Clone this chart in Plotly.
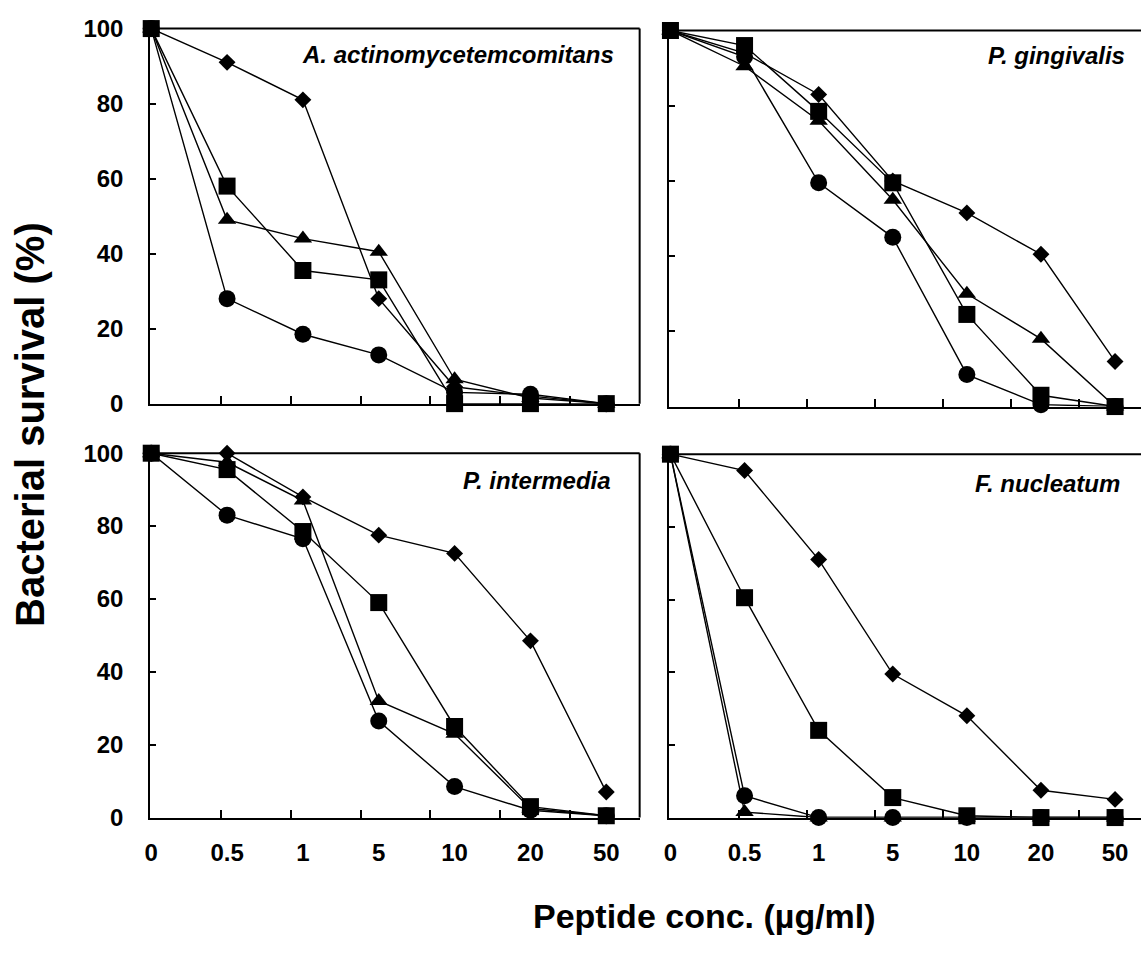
import plotly.graph_objects as go

# ---------------- data ----------------
conc_labels = ["0", "0.5", "1", "5", "10", "20", "50"]
y_ticks = [0, 20, 40, 60, 80, 100]

# A. actinomycetemcomitans
aa_diamond = [100, 91, 81, 28, 4.5, 2, 0]
aa_square = [100, 58, 35.5, 33, 0, 0, 0]
aa_triangle = [100, 49, 44, 40.5, 6.5, 1.5, 0]
aa_circle = [100, 28, 18.5, 13, 3, 2.5, 0]

# P. gingivalis
pg_diamond = [100, 94, 83, 60, 51.5, 40.5, 12]
pg_square = [100, 96, 78.5, 59.5, 24.5, 3, 0]
pg_triangle = [100, 90.5, 76, 55, 30, 18, 0]
pg_circle = [100, 93, 59.5, 45, 8.5, 0.5, 0]

# P. intermedia
pi_diamond = [100, 100, 88, 77.5, 72.5, 48.5, 7]
pi_square = [100, 95.5, 78.5, 59, 25, 3, 0.5]
pi_triangle = [100, 97.5, 87, 32, 23, 2.5, 0.5]
pi_circle = [100, 83, 76.5, 26.5, 8.5, 2, 0.5]

# F. nucleatum
fn_diamond = [100, 95.5, 71, 39.5, 28, 7.5, 5]
fn_square = [100, 60.5, 24, 5.5, 0.5, 0, 0]
fn_triangle = [100, 1.5, 0, 0, 0, 0, 0]
fn_circle = [100, 6, 0, 0, 0, 0, 0]

panels = [
    ("A. actinomycetemcomitans", aa_diamond, aa_square, aa_triangle, aa_circle),
    ("P. gingivalis", pg_diamond, pg_square, pg_triangle, pg_circle),
    ("P. intermedia", pi_diamond, pi_square, pi_triangle, pi_circle),
    ("F. nucleatum", fn_diamond, fn_square, fn_triangle, fn_circle),
]

# ---------------- layout geometry ----------------
W, H = 1141, 953
FONT = "Liberation Sans, Arial, Helvetica, sans-serif"

def px_x(a, b):
    return [a / W, min(b / W, 1.0)]

def px_y(top, bottom):
    return [1 - bottom / H, 1 - top / H]

# (x domain, y domain, x range max, show x labels, show y labels, right border, label pos)
geo = [
    (px_x(145, 637), px_y(15, 401), 6.44, False, True, True, (0.952, 0.93)),
    (px_x(667, 1141), px_y(17, 404), 6.35, False, False, False, (0.97, 0.933)),
    (px_x(145, 637), px_y(452, 827), 6.44, True, True, True, (0.946, 0.925)),
    (px_x(667, 1141), px_y(453, 827), 6.35, True, False, False, (0.96, 0.92)),
]

TICK_STEP = 6.44 / 7

fig = go.Figure()

x_idx = list(range(len(conc_labels)))

series_style = [
    # (index in panel tuple, symbol, size)
    (4, "circle", 17),
    (3, "triangle-up", 16),
    (1, "diamond", 13),
    (2, "square", 17),
]

layout = dict(
    width=W, height=H,
    margin=dict(l=0, r=0, t=0, b=0),
    paper_bgcolor="white", plot_bgcolor="rgba(0,0,0,0)",
    showlegend=False,
    font=dict(family=FONT, color="black"),
    annotations=[],
    shapes=[],
)

BORDER = dict(color="black", width=2)

for i, (panel, g) in enumerate(zip(panels, geo)):
    n = i + 1
    xa = "x" if n == 1 else f"x{n}"
    ya = "y" if n == 1 else f"y{n}"
    xdom, ydom, xmax, showx, showy, rborder, lab = g
    for idx, sym, size in series_style:
        fig.add_trace(go.Scatter(
            x=x_idx, y=panel[idx], xaxis=xa, yaxis=ya,
            mode="lines+markers",
            line=dict(color="black", width=1.4),
            marker=dict(symbol=sym, size=size, color="black"),
            cliponaxis=False, hoverinfo="skip",
        ))
    # main x axis: evenly spaced inner tick marks, no labels
    layout[f"xaxis{n}" if n > 1 else "xaxis"] = dict(
        domain=xdom, anchor=ya, range=[-0.013, xmax],
        tickmode="array",
        tickvals=[TICK_STEP * k for k in range(1, 7)],
        ticks="inside", ticklen=8, tickwidth=1.5, tickcolor="black",
        showticklabels=False,
        showline=True, linecolor="black", linewidth=2,
        mirror=False, showgrid=False, zeroline=False, fixedrange=True,
        layer="above traces",
    )
    # overlay x axis: category labels at the data positions
    if showx:
        m = n + 4
        layout[f"xaxis{m}"] = dict(
            domain=xdom, anchor=ya, overlaying=xa, side="bottom",
            range=[-0.013, xmax],
            tickmode="array", tickvals=x_idx, ticktext=conc_labels,
            ticks="", showticklabels=True,
            tickfont=dict(size=24, family=FONT, weight="bold", color="black"),
            ticklabelstandoff=18,
            showline=False, showgrid=False, zeroline=False, fixedrange=True,
        )
        fig.add_trace(go.Scatter(
            x=x_idx, y=[None] * len(x_idx), xaxis=f"x{m}", yaxis=ya,
            mode="lines", showlegend=False, hoverinfo="skip",
        ))
    layout[f"yaxis{n}" if n > 1 else "yaxis"] = dict(
        domain=ydom, anchor=xa, range=[0, 100],
        tickmode="array", tickvals=y_ticks,
        ticks="inside", ticklen=6, tickwidth=1.5, tickcolor="black",
        showticklabels=showy,
        tickfont=dict(size=24, family=FONT, weight="bold", color="black"),
        ticklabelstandoff=20,
        showline=True, linecolor="black", linewidth=2,
        mirror=False, showgrid=False, zeroline=False, fixedrange=True,
    )
    layout["shapes"].append(dict(
        type="line", xref=f"{xa} domain", yref=f"{ya} domain",
        x0=0, x1=1, y0=1, y1=1, line=BORDER, layer="above",
    ))
    if rborder:
        layout["shapes"].append(dict(
            type="line", xref=f"{xa} domain", yref=f"{ya} domain",
            x0=1, x1=1, y0=0, y1=1, line=BORDER, layer="above",
        ))
    layout["annotations"].append(dict(
        text=panel[0], xref=f"{xa} domain", yref=f"{ya} domain",
        x=lab[0], y=lab[1], xanchor="right", yanchor="middle",
        showarrow=False,
        font=dict(size=24, family=FONT, weight="bold", style="italic", color="black"),
    ))

layout["annotations"].append(dict(
    text="Bacterial survival (%)", xref="paper", yref="paper",
    x=24 / W, y=1 - 422 / H, xanchor="center", yanchor="middle",
    textangle=-90, showarrow=False,
    font=dict(size=40, family=FONT, weight="bold", color="black"),
))
layout["annotations"].append(dict(
    text="Peptide conc. (µg/ml)", xref="paper", yref="paper",
    x=702 / W, y=1 - 928 / H, xanchor="center", yanchor="middle",
    showarrow=False,
    font=dict(size=34, family=FONT, weight="bold", color="black"),
))

fig.update_layout(**layout)
fig.write_html("out.html")
